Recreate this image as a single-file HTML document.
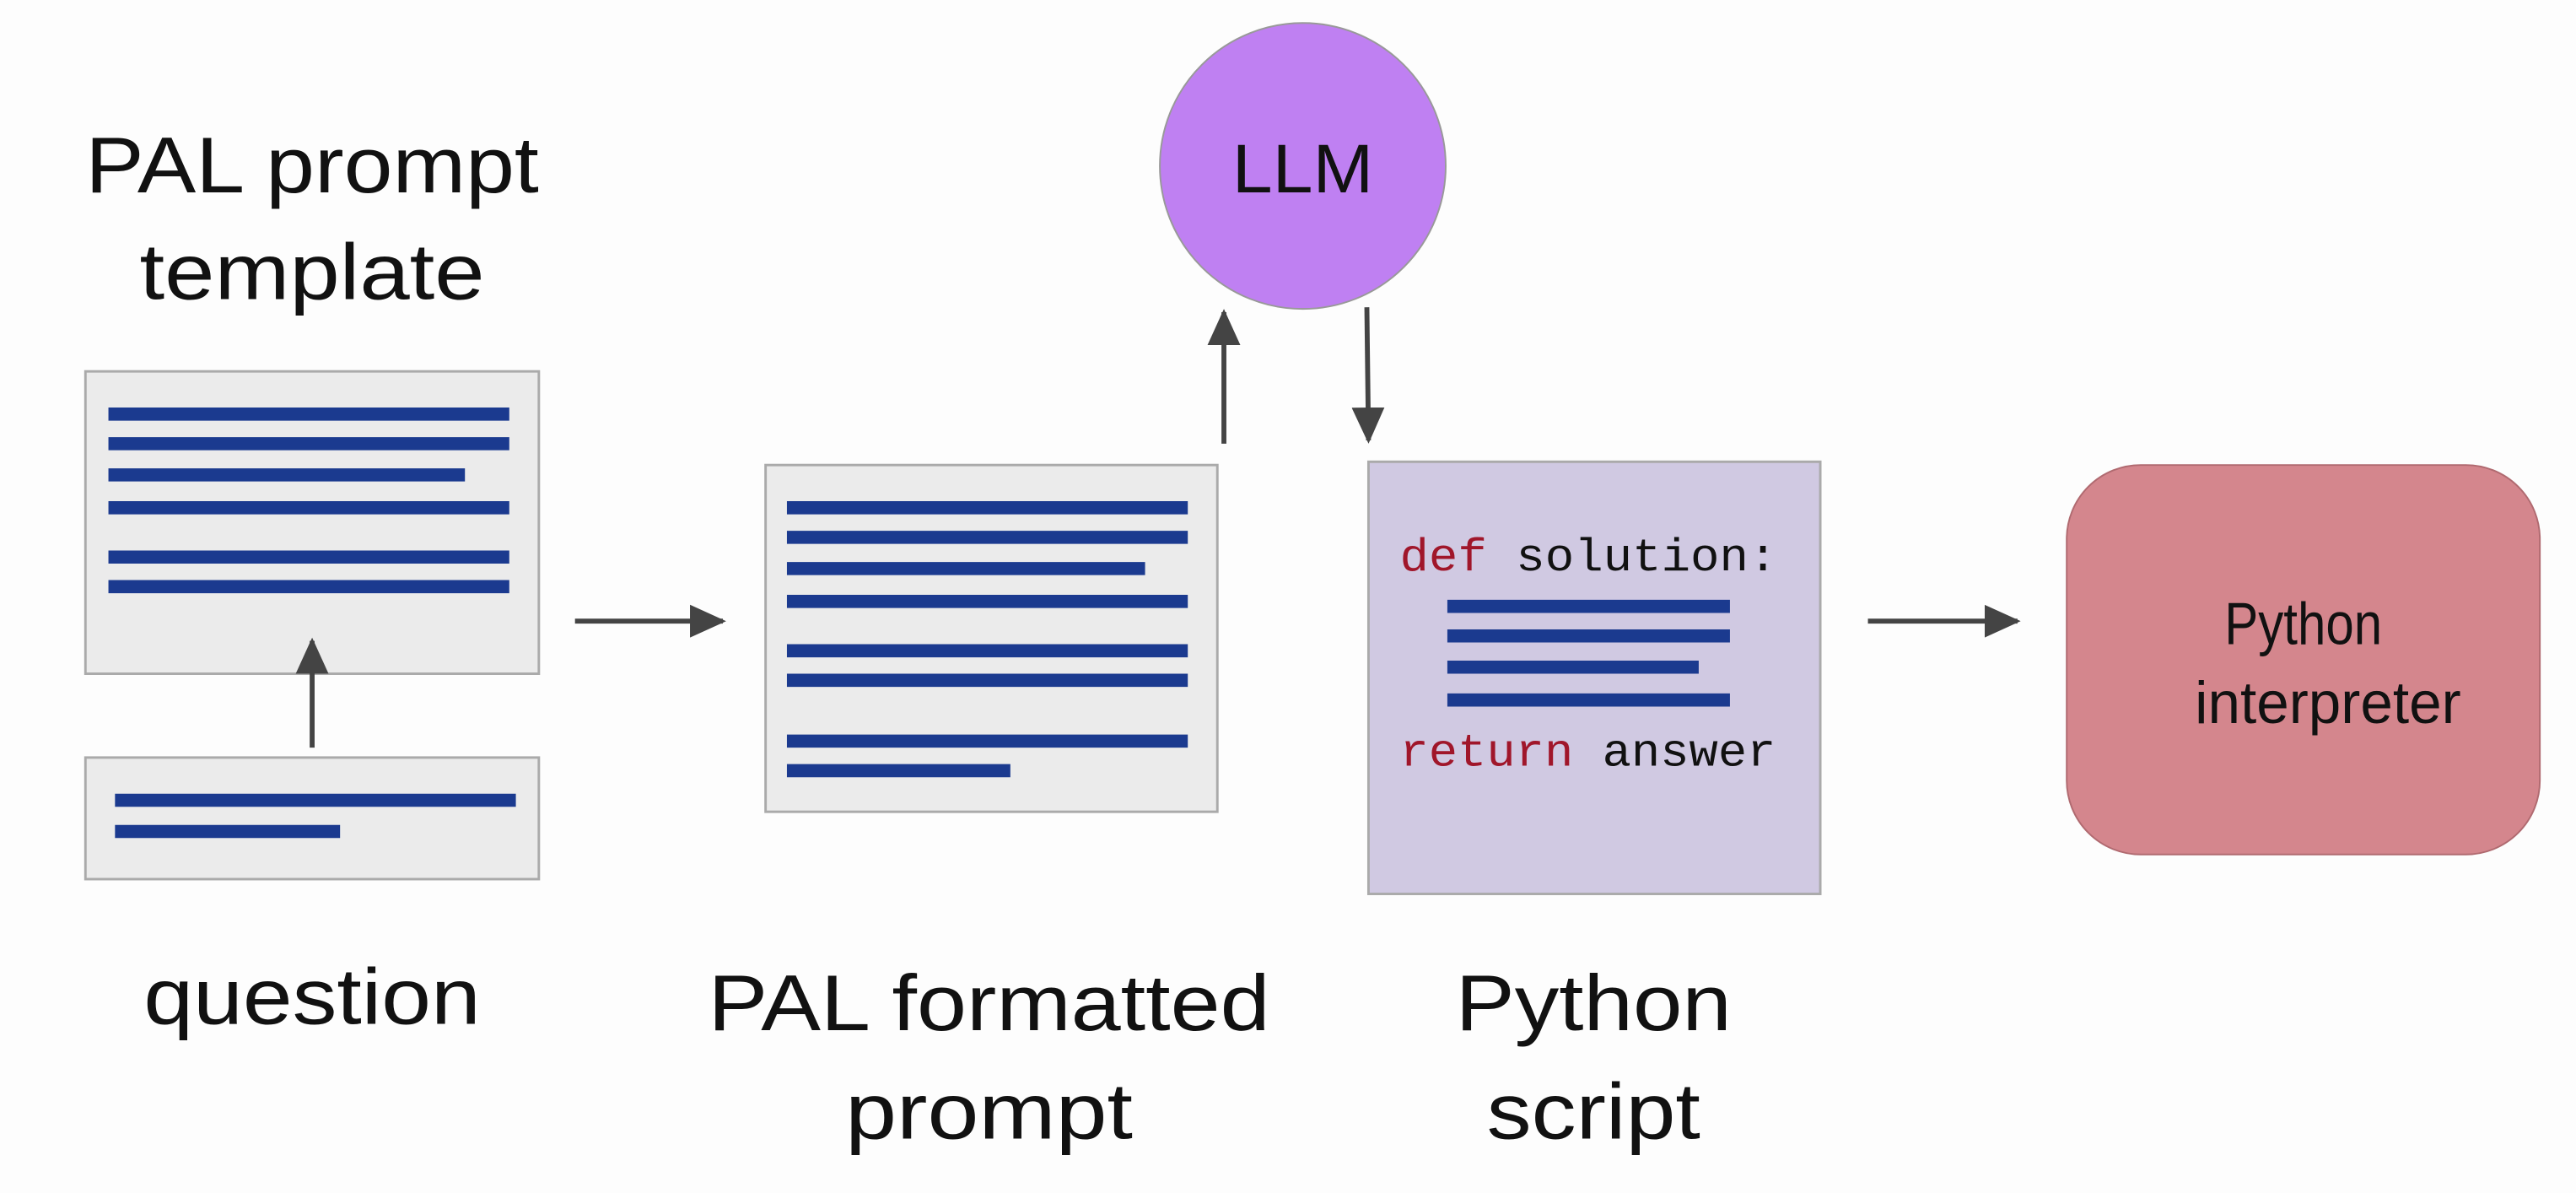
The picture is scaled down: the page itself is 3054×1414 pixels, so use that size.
<!DOCTYPE html>
<html><head><meta charset="utf-8"><style>
html,body{margin:0;padding:0;background:#fdfdfd;}
svg{display:block;}
text{font-family:"Liberation Sans",sans-serif;fill:#111;}
.m{font-family:"Liberation Mono",monospace;}
</style></head><body>
<svg width="3054" height="1414" viewBox="0 0 1568 726" preserveAspectRatio="none" xmlns="http://www.w3.org/2000/svg">
<defs>
<marker id="b" markerWidth="22" markerHeight="20" refX="20" refY="10" orient="auto" markerUnits="userSpaceOnUse"><path d="M0,0 L22,10 L0,20 z" fill="#444"/></marker></defs>
<rect width="1568" height="726" fill="#fdfdfd"/>
<g font-size="48" text-anchor="middle">
<text x="190" y="117" textLength="276" lengthAdjust="spacingAndGlyphs">PAL prompt</text>
<text x="190" y="182" textLength="210" lengthAdjust="spacingAndGlyphs">template</text>
<text x="190" y="623" textLength="205" lengthAdjust="spacingAndGlyphs">question</text>
<text x="602" y="627" textLength="342" lengthAdjust="spacingAndGlyphs">PAL formatted</text>
<text x="602" y="693" textLength="175" lengthAdjust="spacingAndGlyphs">prompt</text>
<text x="970" y="627" textLength="168" lengthAdjust="spacingAndGlyphs">Python</text>
<text x="970" y="693" textLength="130" lengthAdjust="spacingAndGlyphs">script</text>
</g>
<g stroke="#aaa" stroke-width="1.5" fill="#ebebeb">
<rect x="52" y="226" width="276" height="184"/>
<rect x="52" y="461" width="276" height="74"/>
<rect x="466" y="283" width="275" height="211"/>
<rect x="833" y="281" width="275" height="263" fill="#d0c9e2"/>
</g>
<g stroke="#1b3a8f" stroke-width="8" stroke-linecap="butt">
<path d="M66 252H310M66 270H310M66 289H283M66 309H310M66 339H310M66 357H310"/>
<path d="M70 487H314M70 506H207"/>
<path d="M479 309H723M479 327H723M479 346H697M479 366H723M479 396H723M479 414H723M479 451H723M479 469H615"/>
<path d="M881 369H1053M881 387H1053M881 406H1034M881 426H1053"/>
</g>
<g stroke="#444" stroke-width="3" fill="none">
<path d="M190 455V390" marker-end="url(#b)"/>
<path d="M350 378H440" marker-end="url(#b)"/>
<path d="M745 270V190" marker-end="url(#b)"/>
<path d="M832 187L833 268" marker-end="url(#b)"/>
<path d="M1137 378H1228" marker-end="url(#b)"/>
</g>
<circle cx="793" cy="101" r="87" fill="#bf80f2" stroke="#999" stroke-width="1"/>
<text x="793" y="117" font-size="42" text-anchor="middle" textLength="86" lengthAdjust="spacingAndGlyphs">LLM</text>
<g font-size="28">
<text class="m" x="852" y="347" textLength="230" lengthAdjust="spacingAndGlyphs"><tspan fill="#a0162a">def</tspan> solution:</text>
<text class="m" x="852" y="466" textLength="229" lengthAdjust="spacingAndGlyphs"><tspan fill="#a0162a">return</tspan> answer</text>
</g>
<rect x="1258" y="283" width="288" height="237" rx="45" fill="#d4868d" stroke="#b06a70" stroke-width="1"/>
<g font-size="36" text-anchor="middle">
<text x="1402" y="392" textLength="96" lengthAdjust="spacingAndGlyphs">Python</text>
<text x="1417" y="440" textLength="162" lengthAdjust="spacingAndGlyphs">interpreter</text>
</g>
</svg>
</body></html>
